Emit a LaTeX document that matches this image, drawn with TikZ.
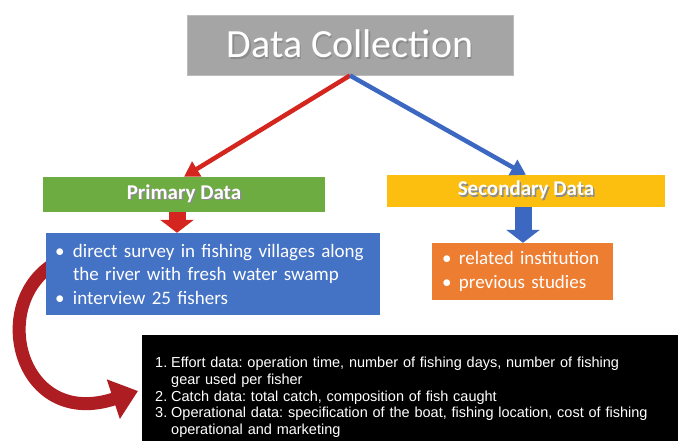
\documentclass[tikz,border=0pt]{standalone}
\usepackage{fontspec}
\setmainfont{Carlito}
\newfontfamily\arialfont{Liberation Sans}
\usetikzlibrary{arrows.meta,calc,backgrounds}
\definecolor{titlegray}{HTML}{A5A5A5}
\definecolor{primgreen}{HTML}{6DAC41}
\definecolor{secyellow}{HTML}{FCBF10}
\definecolor{surveyblue}{HTML}{4472C4}
\definecolor{sourceorange}{HTML}{ED7D31}
\definecolor{arrowred}{HTML}{D4251E}
\definecolor{arrowblue}{HTML}{3C68C2}
\definecolor{curvered}{HTML}{AE1D22}
\newcommand{\shadowed}[1]{\makebox[0pt][l]{\hspace{1.5pt}\raisebox{-1.5pt}{\color{black!45}#1}}#1}
\newcommand{\bul}[1]{\makebox[#1][l]{\textbullet}}
\newcommand{\numitem}[1]{\makebox[16pt][l]{#1}}
\frenchspacing

\begin{document}
\begin{tikzpicture}[x=1pt,y=-1pt,
    headbox/.style={fill=#1, text=white, inner sep=0pt,
      font=\bfseries\fontsize{21}{25}\selectfont},
    listbox/.style={fill=#1, text=white, align=left, inner ysep=0pt,
      font=\fontsize{19}{23.5}\selectfont},
    thinarrow/.style={draw=#1, line width=4.5pt, -{Triangle[width=17pt,length=15pt]}},
    blockarrow/.style={draw=#1, line width=17pt, -{Triangle[width=33pt,length=13pt]}},
    curvearrow/.style={draw=curvered, line width=13pt, -{Triangle[width=40pt,length=26pt]}}]
  \useasboundingbox (0,0) rectangle (678,440);

  \node[fill=titlegray, draw=titlegray!75, line width=1pt, minimum width=326pt,
    minimum height=60pt, text=white, font=\fontsize{40}{45}\selectfont]
    (title) at (350,45) {\shadowed{Data Collection}};

  \node[headbox=primgreen, minimum width=282pt, minimum height=35pt]
    (primary) at (184,194.5) {\shadowed{Primary Data}};
  \node[headbox=secyellow, minimum width=278pt, minimum height=32pt]
    (secondary) at (526,191) {\shadowed{Secondary Data}};

  \node[listbox=surveyblue, inner xsep=9pt, text width=316pt, minimum height=82pt]
    (survey) at (213,274) {\bul{18pt}direct survey in fishing villages along\\
      \hspace*{18pt}the river with fresh water swamp\\
      \bul{18pt}interview 25 fishers};
  \node[listbox=sourceorange, inner xsep=10pt, text width=161pt, minimum height=57pt]
    (sources) at (522.5,271.5) {\bul{17pt}related institution\\
      \bul{17pt}previous studies};

  \node[fill=black, text=white, anchor=north west, align=left, inner xsep=13pt,
    inner ysep=22pt, text width=536pt, font=\arialfont\fontsize{14.5}{16.75}\selectfont]
    (effort) at (142,335) {\numitem{1.}Effort data: operation time, number of fishing days, number of fishing\\
      \hspace*{16pt}gear used per fisher\\
      \numitem{2.}Catch data: total catch, composition of fish caught\\
      \numitem{3.}Operational data: specification of the boat, fishing location, cost of fishing\\
      \hspace*{16pt}operational and marketing};

  \draw[thinarrow=arrowred] (title.south) -- (primary.north);
  \draw[thinarrow=arrowblue] (title.south) -- (secondary.north);
  \draw[blockarrow=arrowred] ($(primary.south)+(-7,0)$) -- ($(primary.south |- survey.north)+(-7,0)$);
  \draw[blockarrow=arrowblue] ($(secondary.south)+(-3,0)$) -- ($(secondary.south |- sources.north)+(-3,0)$);

  \coordinate (cstart) at ($(survey.west)+(8,-10)$);
  \coordinate (ctip) at ($(effort.north west)+(-4,56)$);
  \begin{scope}[on background layer]
    \draw[curvearrow] (cstart) .. controls (-12,305) and (20,430) .. (ctip);
  \end{scope}
\end{tikzpicture}
\end{document}
